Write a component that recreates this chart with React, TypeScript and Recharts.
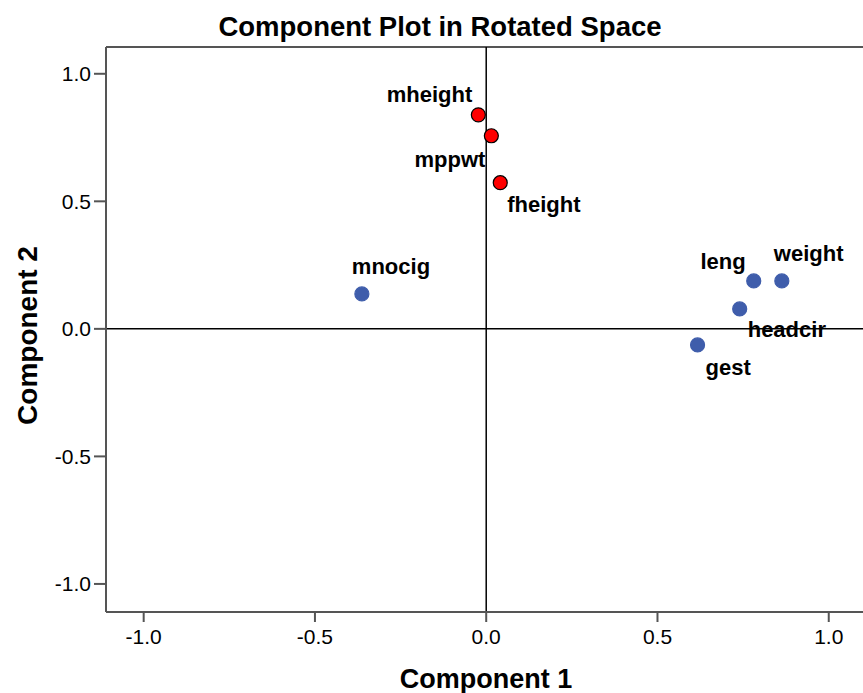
import React from 'react';
import { ScatterChart, Scatter, XAxis, YAxis, ReferenceLine } from 'recharts';

// loadings
const variables = ['mheight', 'mppwt', 'fheight', 'mnocig', 'leng', 'weight', 'headcir', 'gest'];
const component1 = [-0.023, 0.015, 0.041, -0.363, 0.781, 0.863, 0.74, 0.617];
const component2 = [0.839, 0.757, 0.573, 0.137, 0.188, 0.188, 0.078, -0.063];
const highlighted = ['mheight', 'mppwt', 'fheight'];
const axisTicks = [-1.0, -0.5, 0.0, 0.5, 1.0];

const FONT = '"Liberation Sans", Arial, sans-serif';
const AXIS_COLOR = '#555555';

// where each variable name sits next to its point
const labelPlacement: { [key: string]: { dx: number; dy: number; anchor: 'start' | 'middle' | 'end' } } = {
  mheight: { dx: -6, dy: -20, anchor: 'end' },
  mppwt: { dx: -6, dy: 24, anchor: 'end' },
  fheight: { dx: 7, dy: 22, anchor: 'start' },
  mnocig: { dx: -10, dy: -27, anchor: 'start' },
  leng: { dx: -8, dy: -19, anchor: 'end' },
  weight: { dx: -8, dy: -27, anchor: 'start' },
  headcir: { dx: 8, dy: 21, anchor: 'start' },
  gest: { dx: 8, dy: 23, anchor: 'start' },
};

const points = variables.map((name, i) => ({ name, x: component1[i], y: component2[i] }));
const redPoints = points.filter(p => highlighted.includes(p.name));
const bluePoints = points.filter(p => !highlighted.includes(p.name));

const makeShape = (fill: string, stroke: string) => (props: any) => {
  const { cx, cy, payload } = props;
  const place = labelPlacement[payload.name];
  return (
    <g>
      <circle cx={cx} cy={cy} r={7} fill={fill} stroke={stroke} strokeWidth={1.2} />
      <text
        x={cx + place.dx}
        y={cy + place.dy}
        textAnchor={place.anchor}
        dominantBaseline="central"
        fontFamily={FONT}
        fontWeight="bold"
        fontSize={22}
        fill="#000"
      >
        {payload.name}
      </text>
    </g>
  );
};

const YTitle = (props: any) => {
  const vb = props.viewBox || { x: 0, y: 47, width: 106, height: 565 };
  const cx = 27;
  const cy = vb.y + vb.height / 2 + 6;
  return (
    <text
      x={cx}
      y={cy}
      transform={`rotate(-90, ${cx}, ${cy})`}
      textAnchor="middle"
      dominantBaseline="central"
      fontFamily={FONT}
      fontWeight="bold"
      fontSize={28}
      fill="#000"
    >
      Component 2
    </text>
  );
};

const XTitle = (props: any) => {
  const vb = props.viewBox || { x: 106, y: 612, width: 757, height: 81 };
  return (
    <text
      x={486}
      y={vb.y + 67}
      textAnchor="middle"
      dominantBaseline="central"
      fontFamily={FONT}
      fontWeight="bold"
      fontSize={27}
      fill="#000"
    >
      Component 1
    </text>
  );
};

const fmt = (v: number) => v.toFixed(1);

export default function App() {
  return (
    <div style={{ position: 'absolute', left: 0, top: 0, width: 863, height: 693, background: '#fff' }}>
      <div
        style={{
          position: 'absolute',
          left: 0,
          width: 880,
          top: 11,
          textAlign: 'center',
          fontFamily: FONT,
          fontWeight: 'bold',
          fontSize: 27.5,
          lineHeight: '32px',
          color: '#000',
        }}
      >
        Component Plot in Rotated Space
      </div>
      <ScatterChart width={863} height={693} margin={{ top: 47, right: 0, bottom: 0, left: 0 }}>
        <XAxis
          type="number"
          dataKey="x"
          domain={[-1.11, 1.1]}
          allowDataOverflow
          ticks={axisTicks}
          tickFormatter={fmt}
          height={81}
          tickSize={10}
          tickMargin={7}
          stroke={AXIS_COLOR}
          strokeWidth={2}
          tick={{ fill: '#000', fontSize: 21, fontFamily: FONT }}
          label={<XTitle />}
        />
        <YAxis
          type="number"
          dataKey="y"
          domain={[-1.11, 1.105]}
          allowDataOverflow
          ticks={axisTicks}
          tickFormatter={fmt}
          width={106}
          tickSize={12}
          tickMargin={3}
          stroke={AXIS_COLOR}
          strokeWidth={2}
          tick={{ fill: '#000', fontSize: 21, fontFamily: FONT }}
          label={<YTitle />}
        />
        <ReferenceLine y={1.105} stroke={AXIS_COLOR} strokeWidth={2} />
        <ReferenceLine x={0} stroke="#000" strokeWidth={1.5} />
        <ReferenceLine y={0} stroke="#000" strokeWidth={1.5} />
        <Scatter data={bluePoints} shape={makeShape('#3F5DAB', '#3F5DAB')} isAnimationActive={false} />
        <Scatter data={redPoints} shape={makeShape('#FF0000', '#000')} isAnimationActive={false} />
      </ScatterChart>
    </div>
  );
}
